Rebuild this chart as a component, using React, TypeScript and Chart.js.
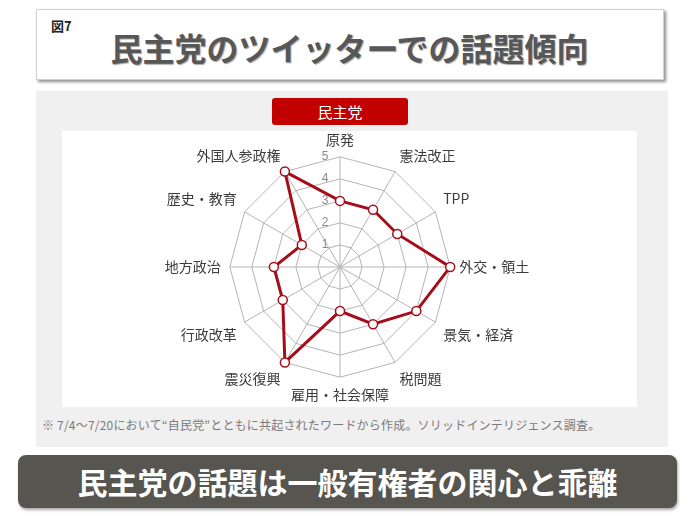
import React, { useEffect, useRef } from "react";
import { Chart, registerables } from "chart.js";

Chart.register(...registerables);

const categories = [
  "原発",
  "憲法改正",
  "TPP",
  "外交・領土",
  "景気・経済",
  "税問題",
  "雇用・社会保障",
  "震災復興",
  "行政改革",
  "地方政治",
  "歴史・教育",
  "外国人参政権",
];
const seriesValues = [3, 3, 3, 5, 4, 3, 2, 5, 3, 3, 2, 5];
const seriesName = "民主党";
const tickValues = [0, 1, 2, 3, 4, 5];

const titleText = "民主党のツイッターでの話題傾向";
const figLabel = "図7";
const footnote =
  "※ 7/4～7/20において“自民党”とともに共起されたワードから作成。ソリッドインテリジェンス調査。";
const bannerText = "民主党の話題は一般有権者の関心と乖離";

const JP = '"Noto Sans CJK JP", "Noto Sans", sans-serif';

function RadarChart() {
  const ref = useRef<HTMLCanvasElement | null>(null);
  useEffect(() => {
    if (!ref.current) return;
    const chart = new Chart(ref.current, {
      type: "radar",
      data: {
        labels: categories,
        datasets: [
          {
            label: seriesName,
            data: seriesValues,
            borderColor: "#a50d1a",
            borderWidth: 3,
            backgroundColor: "rgba(0,0,0,0)",
            fill: false,
            pointRadius: 4.5,
            pointBackgroundColor: "#ffffff",
            pointBorderColor: "#a50d1a",
            pointBorderWidth: 1.5,
          },
        ],
      },
      options: {
        animation: false,
        responsive: true,
        maintainAspectRatio: false,
        plugins: {
          legend: { display: false },
          tooltip: { enabled: false },
        },
        scales: {
          r: {
            min: tickValues[0],
            max: tickValues[tickValues.length - 1],
            beginAtZero: true,
            grid: { color: "#b4b4b4", lineWidth: 1 },
            angleLines: { color: "#b4b4b4", lineWidth: 1 },
            ticks: {
              stepSize: 1,
              showLabelBackdrop: false,
              backdropPadding: 0,
              color: "#8a8a8a",
              font: { family: '"Liberation Sans", Arial, sans-serif', size: 12 },
              callback: (v: any) => String(v) + "         ",
            },
            pointLabels: {
              color: "#3c3c3c",
              padding: 3,
              font: { family: JP, size: 14 },
            },
          },
        },
      },
    });
    return () => chart.destroy();
  }, []);
  return <canvas ref={ref} />;
}

export default function App() {
  return (
    <div
      style={{
        position: "fixed",
        left: 0,
        top: 0,
        width: 696,
        height: 522,
        background: "#ffffff",
        fontFamily: JP,
        overflow: "hidden",
      }}
    >
      {/* title box */}
      <div
        style={{
          position: "absolute",
          left: 36,
          top: 9,
          width: 626,
          height: 69,
          background: "#ffffff",
          border: "1px solid #d0d0d0",
          boxShadow: "2px 2px 3px rgba(0,0,0,0.45)",
        }}
      />
      <div
        style={{
          position: "absolute",
          left: 51,
          top: 16,
          fontSize: 13,
          fontWeight: 700,
          color: "#222",
          lineHeight: "20px",
        }}
      >
        {figLabel}
      </div>
      <div
        style={{
          position: "absolute",
          left: 36,
          top: 26,
          width: 627,
          textAlign: "center",
          fontSize: 32,
          fontWeight: 700,
          lineHeight: "42px",
          color: "#575757",
          textShadow: "1px 1px 1px rgba(0,0,0,0.35)",
          whiteSpace: "nowrap",
        }}
      >
        {titleText}
      </div>

      {/* gray panel */}
      <div
        style={{
          position: "absolute",
          left: 36,
          top: 91,
          width: 632,
          height: 356,
          background: "#f0f0f0",
        }}
      />
      {/* red legend button */}
      <div
        style={{
          position: "absolute",
          left: 272,
          top: 98,
          width: 136,
          height: 27,
          background: "#c20000",
          borderRadius: 3,
          color: "#ffffff",
          fontSize: 15,
          lineHeight: "27px",
          textAlign: "center",
        }}
      >
        {seriesName}
      </div>
      {/* white chart area */}
      <div
        style={{
          position: "absolute",
          left: 62,
          top: 131,
          width: 575,
          height: 276,
          background: "#ffffff",
        }}
      />
      <div
        style={{
          position: "absolute",
          left: 90,
          top: 132,
          width: 500,
          height: 272,
        }}
      >
        <RadarChart />
      </div>
      {/* footnote */}
      <div
        style={{
          position: "absolute",
          left: 42,
          top: 416,
          fontSize: 12,
          lineHeight: "18px",
          color: "#7a7a7a",
          whiteSpace: "nowrap",
          letterSpacing: 0.2,
        }}
      >
        {footnote}
      </div>
      {/* bottom banner */}
      <div
        style={{
          position: "absolute",
          left: 18,
          top: 455,
          width: 659,
          height: 53,
          background: "#56554f",
          borderRadius: 8,
          boxShadow: "1px 2px 3px rgba(0,0,0,0.35)",
          color: "#ffffff",
          fontSize: 30,
          fontWeight: 700,
          lineHeight: "52px",
          textAlign: "center",
          whiteSpace: "nowrap",
        }}
      >
        {bannerText}
      </div>
    </div>
  );
}
